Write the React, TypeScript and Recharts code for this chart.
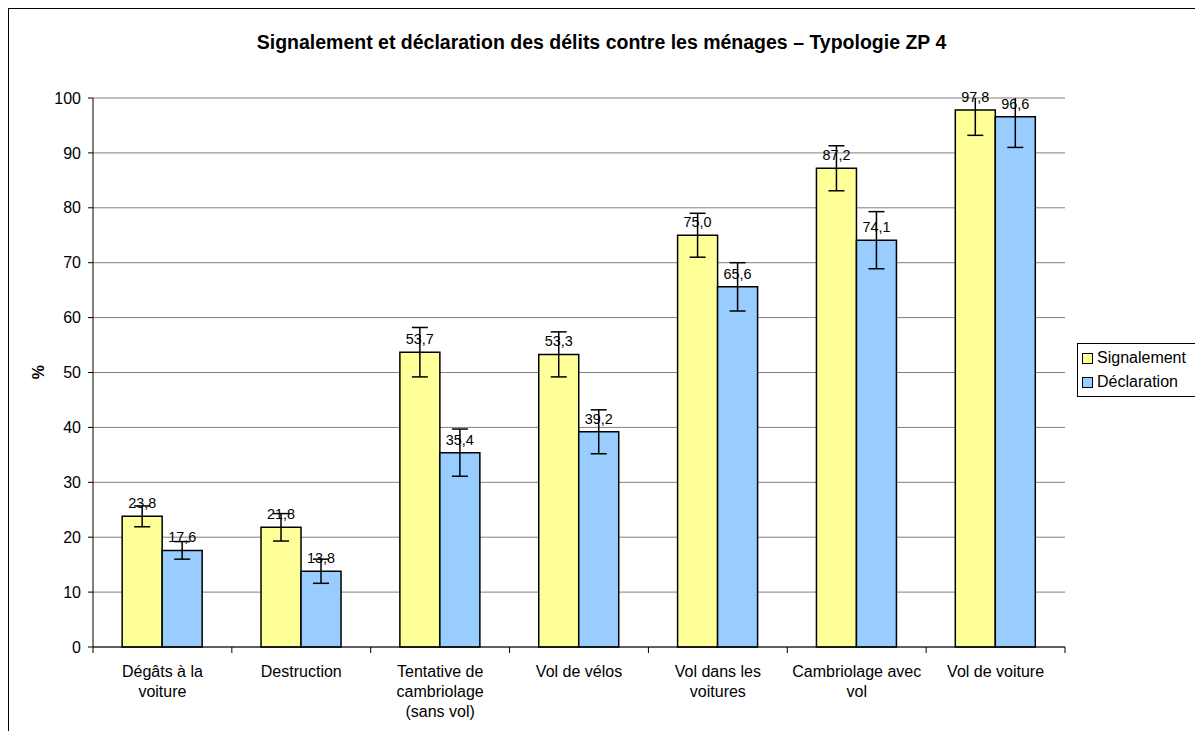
import React from "react";
import {
  BarChart,
  Bar,
  XAxis,
  YAxis,
  CartesianGrid,
  ErrorBar,
  LabelList,
} from "recharts";

const categories = [
  "Dégâts à la voiture",
  "Destruction",
  "Tentative de cambriolage (sans vol)",
  "Vol de vélos",
  "Vol dans les voitures",
  "Cambriolage avec vol",
  "Vol de voiture",
];

// label lines as printed under the axis
const categoryLines = [
  ["Dégâts à la", "voiture"],
  ["Destruction"],
  ["Tentative de", "cambriolage", "(sans vol)"],
  ["Vol de vélos"],
  ["Vol dans les", "voitures"],
  ["Cambriolage avec", "vol"],
  ["Vol de voiture"],
];

const signalement = [23.8, 21.8, 53.7, 53.3, 75.0, 87.2, 97.8];
const declaration = [17.6, 13.8, 35.4, 39.2, 65.6, 74.1, 96.6];
const signalementErr = [1.9, 2.5, 4.5, 4.1, 4.0, 4.1, 4.6];
const declarationErr = [1.6, 2.2, 4.3, 4.0, 4.4, 5.2, 5.6];

const yTicks = [0, 10, 20, 30, 40, 50, 60, 70, 80, 90, 100];

const data = categories.map((name, i) => ({
  name,
  signalement: signalement[i],
  declaration: declaration[i],
  signalementErr: signalementErr[i],
  declarationErr: declarationErr[i],
}));

const FONT = '"Liberation Sans", Arial, sans-serif';
const CHART_W = 1186;
const CHART_H = 722;
const MARGIN = { top: 89, right: 130, left: 14, bottom: 14 };
const Y_AXIS_W = 70;
const X_AXIS_H = 70;
const PLOT_X = MARGIN.left + Y_AXIS_W;
const PLOT_W = CHART_W - PLOT_X - MARGIN.right;
const PLOT_H = CHART_H - MARGIN.top - MARGIN.bottom - X_AXIS_H;
const BAND = PLOT_W / categories.length;

const fmt = (v: number) => v.toFixed(1).replace(".", ",");

const XTick = (props: any) => {
  const { x, y, index } = props;
  const lines = categoryLines[index] || [];
  const axisY = y - 8;
  return (
    <g>
      <line x1={x - BAND / 2} y1={axisY} x2={x - BAND / 2} y2={axisY + 6} stroke="#000" />
      {index === categories.length - 1 && (
        <line x1={x + BAND / 2} y1={axisY} x2={x + BAND / 2} y2={axisY + 6} stroke="#000" />
      )}
      <text x={x} y={axisY + 30} textAnchor="middle" fontSize={16} fill="#000" fontFamily={FONT}>
        {lines.map((l: string, k: number) => (
          <tspan key={k} x={x} dy={k === 0 ? 0 : 20}>
            {l}
          </tspan>
        ))}
      </text>
    </g>
  );
};

const Swatch = ({ color }: { color: string }) => (
  <span
    style={{
      display: "inline-block",
      width: 9,
      height: 9,
      background: color,
      border: "1px solid #000",
      marginRight: 4,
    }}
  />
);

const labelStyle = { fontSize: 14.4, fill: "#000", fontFamily: FONT };

export default function App() {
  return (
    <div
      style={{
        position: "fixed",
        left: 8,
        top: 8,
        width: 1186,
        height: 722,
        borderLeft: "1px solid #000",
        borderTop: "1px solid #000",
        overflow: "hidden",
        fontFamily: FONT,
        background: "#fff",
      }}
    >
      <div
        style={{
          position: "absolute",
          left: 0,
          width: 1185,
          top: 22,
          textAlign: "center",
          fontWeight: "bold",
          fontSize: 19.5,
        }}
      >
        Signalement et déclaration des délits contre les ménages – Typologie ZP 4
      </div>
      <BarChart
        width={CHART_W}
        height={CHART_H}
        data={data}
        margin={MARGIN}
        barCategoryGap="21%"
        barGap={0}
      >
        <defs>
          <clipPath id="plot-clip">
            <rect x={PLOT_X - 10} y={MARGIN.top} width={PLOT_W + 20} height={PLOT_H + 10} />
          </clipPath>
        </defs>
        <CartesianGrid vertical={false} stroke="#808080" />
        <XAxis
          dataKey="name"
          interval={0}
          height={X_AXIS_H}
          tickLine={false}
          axisLine={{ stroke: "#000" }}
          tick={<XTick />}
        />
        <XAxis xAxisId="err" dataKey="name" hide />
        <YAxis
          width={Y_AXIS_W}
          domain={[0, 100]}
          ticks={yTicks}
          interval={0}
          tickSize={5}
          tickMargin={7}
          axisLine={{ stroke: "#000" }}
          tickLine={{ stroke: "#000" }}
          tick={{ fontSize: 16, fill: "#000", fontFamily: FONT }}
          label={{
            content: () => (
              <text
                x={29}
                y={363}
                transform="rotate(-90 29 363)"
                textAnchor="middle"
                dominantBaseline="central"
                fontSize={16}
                fontWeight="bold"
                fill="#000"
                fontFamily={FONT}
              >
                %
              </text>
            ),
          }}
        />
        <YAxis
          yAxisId="err"
          orientation="right"
          width={0}
          domain={[0, 100]}
          allowDataOverflow
          tick={false}
          tickLine={false}
          axisLine={{ stroke: "#808080" }}
        />
        <Bar
          dataKey="signalement"
          name="Signalement"
          fill="#FFFF99"
          stroke="#000"
          strokeWidth={1.5}
          isAnimationActive={false}
        >
          <LabelList
            dataKey="signalement"
            position="top"
            offset={8}
            formatter={(v: any) => fmt(Number(v))}
            style={labelStyle}
          />
        </Bar>
        <Bar
          dataKey="declaration"
          name="Déclaration"
          fill="#99CCFF"
          stroke="#000"
          strokeWidth={1.5}
          isAnimationActive={false}
        >
          <LabelList
            dataKey="declaration"
            position="top"
            offset={8}
            formatter={(v: any) => fmt(Number(v))}
            style={labelStyle}
          />
        </Bar>
        {/* error bars on an overlay pair of empty bars, clipped to the plot like the original */}
        <Bar
          xAxisId="err"
          yAxisId="err"
          dataKey="signalement"
          fill="none"
          stroke="none"
          isAnimationActive={false}
        >
          <ErrorBar
            dataKey="signalementErr"
            width={8}
            stroke="#000"
            strokeWidth={1.5}
            clipPath="url(#plot-clip)"
          />
        </Bar>
        <Bar
          xAxisId="err"
          yAxisId="err"
          dataKey="declaration"
          fill="none"
          stroke="none"
          isAnimationActive={false}
        >
          <ErrorBar
            dataKey="declarationErr"
            width={8}
            stroke="#000"
            strokeWidth={1.5}
            clipPath="url(#plot-clip)"
          />
        </Bar>
      </BarChart>
      <div
        style={{
          position: "absolute",
          left: 1068,
          top: 334,
          width: 130,
          height: 54,
          border: "1px solid #000",
          fontSize: 16,
          lineHeight: "24px",
          padding: "2px 0 0 4px",
          boxSizing: "border-box",
          background: "#fff",
        }}
      >
        <div style={{ display: "flex", alignItems: "center" }}>
          <Swatch color="#FFFF99" />
          Signalement
        </div>
        <div style={{ display: "flex", alignItems: "center" }}>
          <Swatch color="#99CCFF" />
          Déclaration
        </div>
      </div>
    </div>
  );
}
